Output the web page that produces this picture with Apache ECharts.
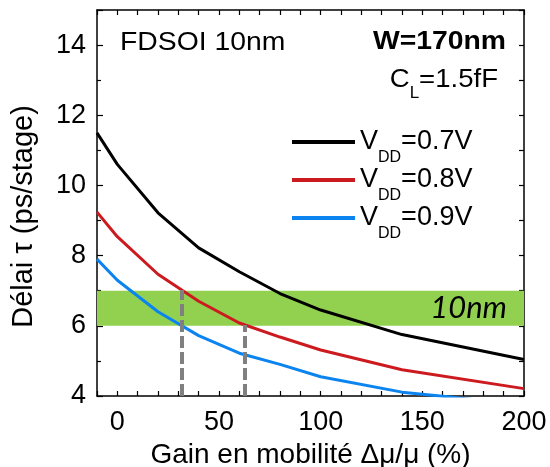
<!DOCTYPE html>
<html><head><meta charset="utf-8">
<script src="https://cdn.jsdelivr.net/npm/echarts@6/dist/echarts.min.js"></script>
<style>html,body{margin:0;padding:0;background:#fff}#c{width:550px;height:467px}</style>
</head><body><div id="c"></div>
<script>
// ---- data ----
const seriesNames = ['VDD=0.7V', 'VDD=0.8V', 'VDD=0.9V'];
const xGain = [-10, 0, 20, 40, 60, 80, 100, 140, 200];
const vdd07 = [11.5, 10.6, 9.22, 8.22, 7.54, 6.92, 6.45, 5.75, 5.04];
const vdd08 = [9.24, 8.54, 7.47, 6.7, 6.08, 5.68, 5.31, 4.75, 4.21];
const xGainBlue = [-10, 0, 20, 40, 60, 80, 100, 140, 160, 200];
const vdd09 = [7.9, 7.3, 6.4, 5.72, 5.22, 4.9, 4.55, 4.11, 3.99, 3.75];
const bandRange = [6, 7];
const bandLabel = '10nm';
const dropX = [31.5, 62.5];
const dropTop = [7.02, 6.02];
const xTickLabels = [0, 50, 100, 150, 200];
const yTickLabels = [4, 6, 8, 10, 12, 14];

const FONT = '"Liberation Sans", Arial, sans-serif';
const pair = (xs, ys) => xs.map((x, i) => [x, ys[i]]);

const chart = echarts.init(document.getElementById('c'), null, {renderer: 'canvas'});

const lineSeries = (name, data, color) => ({
  name, type: 'line', data, symbol: 'none', smooth: false, z: 3,
  lineStyle: {color, width: 3}, itemStyle: {color}, clip: true
});
const frameLine = {show: true, onZero: false, lineStyle: {color: '#000', width: 1.5}};

const option = {
  animation: false,
  backgroundColor: '#fff',
  grid: {left: 97, right: 26, top: 10, bottom: 71, containLabel: false, outerBoundsMode: 'none'},
  xAxis: [{
    type: 'value', min: -10, max: 200, interval: 10, position: 'bottom',
    axisLine: frameLine,
    axisTick: {inside: true, length: 5, lineStyle: {color: '#000', width: 1.2}},
    splitLine: {show: false},
    axisLabel: {
      color: '#000', fontFamily: FONT, fontSize: 27, margin: 13,
      formatter: v => xTickLabels.includes(v) ? String(v) : ''
    },
    name: 'Gain en mobilité Δμ/μ (%)', nameLocation: 'middle', nameGap: 37,
    nameTextStyle: {color: '#000', fontFamily: FONT, fontSize: 28}
  }, {
    type: 'value', min: -10, max: 200, interval: 10, position: 'top',
    axisLine: frameLine,
    axisTick: {inside: true, length: 5, lineStyle: {color: '#000', width: 1.2}},
    axisLabel: {show: false}, splitLine: {show: false}
  }],
  yAxis: [{
    type: 'value', min: 4, max: 15, interval: 2, position: 'left',
    axisLine: frameLine,
    axisTick: {show: true, inside: true, length: 6, lineStyle: {color: '#000', width: 1.2}},
    minorTick: {show: true, splitNumber: 2, length: 4, lineStyle: {color: '#000', width: 1.2}},
    splitLine: {show: false},
    axisLabel: {
      color: '#000', fontFamily: FONT, fontSize: 27, margin: 11,
      formatter: v => yTickLabels.includes(v) ? String(v) : ''
    },
    name: 'Délai τ (ps/stage)', nameLocation: 'middle', nameGap: 59, nameRotate: 90,
    nameTextStyle: {color: '#000', fontFamily: FONT, fontSize: 29, padding: [0, 27, 0, 0]}
  }, {
    type: 'value', min: 4, max: 15, interval: 1, position: 'right',
    axisLine: frameLine,
    axisTick: {show: true, inside: true, length: 5, lineStyle: {color: '#000', width: 1.2}},
    axisLabel: {show: false}, splitLine: {show: false}
  }],
  legend: {
    data: seriesNames, orient: 'vertical', left: 292, top: 118, padding: 0,
    itemWidth: 63, itemHeight: 4, itemGap: -10, icon: 'rect', selectedMode: false,
    formatter: name => '{v|V}{s|DD}{v|' + name.slice(3) + '}',
    textStyle: {
      color: '#000', fontFamily: FONT,
      rich: {
        v: {fontSize: 27, lineHeight: 30, fontFamily: FONT, color: '#000'},
        s: {fontSize: 16, lineHeight: 16, padding: [32, 0, 0, 0], fontFamily: FONT, color: '#000'}
      }
    }
  },
  series: [{
    name: 'band', type: 'line', data: [], z: 1, silent: true,
    markArea: {
      silent: true,
      itemStyle: {color: '#92d050', opacity: 1},
      label: {
        show: true, position: 'insideRight', distance: 17,
        color: '#000', fontFamily: 'Lato, "Liberation Sans", sans-serif', fontStyle: 'italic', fontSize: 31
      },
      data: [[{yAxis: bandRange[0], name: bandLabel}, {yAxis: bandRange[1]}]]
    },
    markLine: {
      silent: true, symbol: 'none',
      label: {show: false},
      lineStyle: {color: '#808080', width: 4, type: [12, 4]},
      data: dropX.map((x, i) => [{coord: [x, 4]}, {coord: [x, dropTop[i]]}])
    }
  },
    lineSeries(seriesNames[0], pair(xGain, vdd07), '#000000'),
    lineSeries(seriesNames[1], pair(xGain, vdd08), '#cc1a1f'),
    lineSeries(seriesNames[2], pair(xGainBlue, vdd09), '#0b84f0')
  ],
  graphic: [{
    type: 'text', x: 120, y: 43, scaleX: 1.09,
    style: {text: 'FDSOI 10nm', font: '26px ' + FONT, fill: '#000', align: 'left', verticalAlign: 'middle'}
  }, {
    type: 'text', x: 506, y: 42, scaleX: 1.09,
    style: {text: 'W=170nm', font: 'bold 26px ' + FONT, fill: '#000', align: 'right', verticalAlign: 'middle'}
  }, {
    type: 'text', x: 498, y: 80, scaleX: 1.06,
    style: {
      text: '{m|C}{s|L}{m|=1.5fF}', fill: '#000', align: 'right', verticalAlign: 'middle',
      rich: {
        m: {fontSize: 26, lineHeight: 30, fontFamily: FONT, fill: '#000'},
        s: {fontSize: 16, lineHeight: 16, padding: [28, 0, 0, 0], fontFamily: FONT, fill: '#000'}
      }
    }
  }]
};
chart.setOption(option);
</script>
</body></html>
